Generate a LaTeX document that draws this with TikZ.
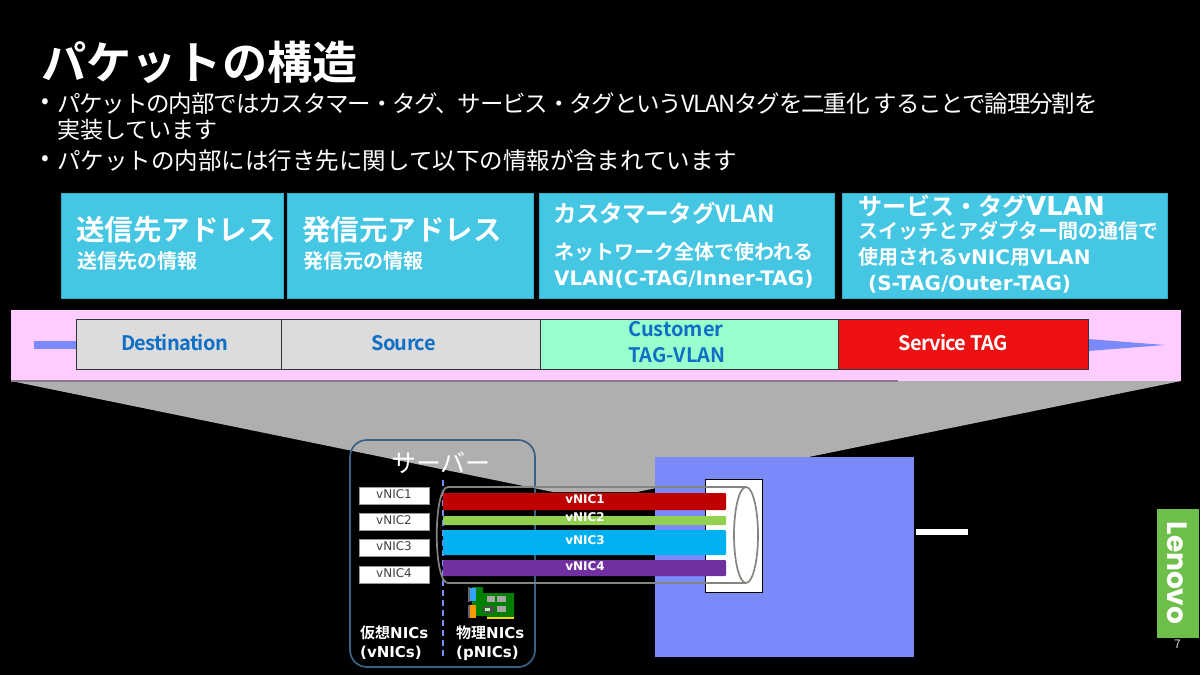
\documentclass[tikz,border=0pt]{standalone}
\usepackage{fontspec}
\setmainfont{Noto Sans CJK JP}
\newfontfamily\jpb{Noto Sans CJK JP Bold}
\newfontfamily\dvr{DejaVu Sans}
\newfontfamily\dvb{DejaVu Sans Bold}
\newfontfamily\pop{Poppins}
\definecolor{cyanbox}{HTML}{45C6E3}
\definecolor{cyanedge}{HTML}{2FAFCB}
\definecolor{pinkband}{HTML}{FFCCFF}
\definecolor{graycell}{HTML}{DCDCDC}
\definecolor{mintcell}{HTML}{99FFCC}
\definecolor{redcell}{HTML}{EE1111}
\definecolor{linkblue}{HTML}{0F6FC6}
\definecolor{periw}{HTML}{7B8AFB}
\definecolor{srvline}{HTML}{3A6186}
\definecolor{lenovo}{HTML}{6EBE4A}
\definecolor{cyl}{HTML}{85857F}
\definecolor{wedge}{HTML}{AFAFAF}
\definecolor{bandline}{HTML}{8A7A8A}
\tikzset{
  toptext/.style={anchor=west,align=left,text=white,inner sep=0pt,font=\jpb},
  topbox/.style={fill=cyanbox,draw=cyanedge,line width=0.8pt},
  bullet/.style={anchor=west,text=white,inner sep=0pt},
  cell/.style={draw=black!80,line width=0.8pt,anchor=north west,inner sep=0pt,minimum height=50pt},
  celltext/.style={inner sep=0pt,align=left,font=\jpb\fontsize{20}{26}\selectfont\addfontfeature{LetterSpace=-3.5}},
  custtext/.style={inner sep=0pt,align=left,anchor=west,font=\jpb\fontsize{20}{26}\selectfont},
  vbox/.style={fill=white,draw=black!40,line width=0.5pt,minimum width=70pt,minimum height=17pt,inner sep=0pt},
  vtext/.style={inner sep=0pt,text=black!75,font=\dvr\fontsize{12}{13}\selectfont},
  bartext/.style={text=white,font=\dvb\fontsize{12}{13}\selectfont,inner sep=0pt},
  niclabel/.style={text=white,inner sep=0pt,align=left,anchor=north west,font=\jpb\fontsize{15}{19}\selectfont},
}
\begin{document}
\begin{tikzpicture}[x=1pt,y=-1pt]
\path[fill=black,use as bounding box] (0,0) rectangle (1200,675);
% title
\node[anchor=west,text=white,inner sep=0pt,font=\jpb\fontsize{45.2}{48}\selectfont] (title) at (41,62) {パケットの構造};
\node[bullet,font=\fontsize{23}{25}\selectfont] (b1) at (41,104) {•};
\node[bullet,font=\fontsize{23.5}{25}\selectfont\addfontfeature{LetterSpace=-4.9}] (l1) at (57,104) {パケットの内部ではカスタマー・タグ、サービス・タグというVLANタグを二重化 することで論理分割を};
\node[bullet,font=\fontsize{23}{25}\selectfont] (l2) at (57,130) {実装しています};
\node[bullet,font=\fontsize{23}{25}\selectfont] (b2) at (41,161) {•};
\node[bullet,font=\fontsize{23.5}{25}\selectfont] (l3) at (57,161) {パケットの内部には行き先に関して以下の情報が含まれています};
% top boxes
\draw[topbox] (61,193) rectangle (283.5,298.5);
\draw[topbox] (287,193) rectangle (533.5,298.5);
\draw[topbox] (539,193) rectangle (834.5,298.5);
\draw[topbox] (842,193) rectangle (1167.5,298.5);
\node[toptext,font=\jpb\fontsize{28.5}{31}\selectfont] (t1a) at (76,230) {送信先アドレス};
\node[toptext,font=\jpb\fontsize{20}{22}\selectfont] (t1b) at (77,261) {送信先の情報};
\node[toptext,font=\jpb\fontsize{28.5}{31}\selectfont] (t2a) at (302,230) {発信元アドレス};
\node[toptext,font=\jpb\fontsize{20}{22}\selectfont] (t2b) at (303,261) {発信元の情報};
\node[toptext,font=\jpb\fontsize{23.5}{26}\selectfont\addfontfeature{LetterSpace=-1.5}] (t3a) at (553,213) {カスタマータグVLAN};
\node[toptext,font=\jpb\fontsize{20}{26}\selectfont] (t3b) at (554,265) {ネットワーク全体で使われる\\{\dvb VLAN(C-TAG/Inner-TAG)}};
\node[toptext,font=\jpb\fontsize{24}{26}\selectfont] (t4a) at (858,206) {サービス・タグ{\dvb\fontsize{26}{26}\selectfont VLAN}};
\node[toptext,font=\jpb\fontsize{20}{26}\selectfont] (t4b) at (858,257.5) {スイッチとアダプター間の通信で\\使用される{\dvb vNIC}用{\dvb VLAN}\\\hspace*{10pt}{\dvb (S-TAG/Outer-TAG)}};
% gray wedge
\fill[wedge] (11,381) -- (1181,381) -- (637,492) -- (553,492) -- cycle;
% pink band
\fill[pinkband] (11,310) rectangle (1181,381);
\draw[bandline,line width=1.3pt] (11,381) -- (898,381);
% arrow
\fill[periw] (34,341) rectangle (76,349);
\fill[periw] (1088,339) -- (1165,345) -- (1088,351) -- cycle;
% cells
\node[cell,fill=graycell,minimum width=205pt] (dst) at (75.5,318.5) {};
\node[cell,fill=graycell,minimum width=259pt] (src) at (280.5,318.5) {};
\node[cell,fill=mintcell,minimum width=298pt] (cust) at (539.5,318.5) {};
\node[cell,fill=redcell,minimum width=250pt] (svc) at (837.5,318.5) {};
\node[celltext,text=linkblue] (dstt) at (174.5,343) {Destination};
\node[celltext,text=linkblue] (srct) at (403.5,343) {Source};
\node[custtext,text=linkblue] (custt) at (628,342) {Customer\\TAG-VLAN};
\node[celltext,text=white] (svct) at (953,343) {Service TAG};
% switch
\fill[periw] (655,457) rectangle (914,657);
\draw[fill=white,draw=black,line width=0.7pt] (705,479) rectangle (762,592);
\fill[white] (916,529) rectangle (968,535);
% server
\draw[srvline,line width=1.7pt,rounded corners=17pt] (350,440) rectangle (535,667);
\node[text=white,inner sep=0pt,font=\fontsize{25}{26}\selectfont] (srv) at (441,463) {サーバー};
\draw[periw,line width=1.4pt,dash pattern=on 6pt off 4pt] (443,480) -- (443,658);
\node[vbox] (v1) at (394,495.5) {};
\node[vbox] (v2) at (394,521.5) {};
\node[vbox] (v3) at (394,548) {};
\node[vbox] (v4) at (394,574.5) {};
\node[vtext] at (394,494) {vNIC1};
\node[vtext] at (394,520) {vNIC2};
\node[vtext] at (394,546.5) {vNIC3};
\node[vtext] at (394,573) {vNIC4};
% bars
\fill[fill={rgb,255:red,192;green,0;blue,0},rounded corners=1pt] (443,493) rectangle (726,510);
\fill[fill={rgb,255:red,146;green,208;blue,80},rounded corners=1pt] (443,516) rectangle (726,525);
\fill[fill={rgb,255:red,0;green,176;blue,240},rounded corners=1pt] (443,530) rectangle (726,555);
\fill[fill={rgb,255:red,112;green,48;blue,160},rounded corners=1pt] (443,560) rectangle (726,576);
\node[bartext] (n1) at (585,499) {vNIC1};
\node[bartext] (n2) at (585,517.5) {vNIC2};
\node[bartext] (n3) at (585,540) {vNIC3};
\node[bartext] (n4) at (585,566) {vNIC4};
% cylinder
\draw[cyl,line width=1.7pt] (746,487) -- (448,487) .. controls (433,487) and (433,583) .. (448,583) -- (746,583);
\draw[cyl,line width=1.7pt] (746,535) ellipse [x radius=12, y radius=48];
% NIC icon
\fill[green!50!black] (472,587) -- (483,587) -- (483,593) -- (514,593) -- (514,618) -- (487,618) -- (487,616) -- (472,616) -- cycle;
\fill[yellow!70!orange] (487,616.5) rectangle (514,619);
\fill[gray!70] (487,596) rectangle (495,602);
\fill[gray!70] (497,596) rectangle (506,602);
\fill[gray!70] (497,606) rectangle (506,612);
\fill[black!70] (483,606) rectangle (494,613);
\fill[white!70!green] (485,608) rectangle (490,611);
\fill[gray!80!black] (468,587) rectangle (470,602);
\fill[gray!80!black] (468,605) rectangle (470,618);
\fill[blue!45!cyan!80!white] (470,588) rectangle (476,601);
\fill[orange!80!yellow] (470,605) rectangle (476,618);
% labels
\node[niclabel] (vn) at (360,626) {仮想{\dvb NICs}\\{\dvb (vNICs)}};
\node[niclabel] (pn) at (456,626) {物理{\dvb NICs}\\{\dvb (pNICs)}};
% lenovo
\fill[lenovo] (1157,509) rectangle (1199,638);
\node[rotate=-90,text=white,inner sep=0pt,font=\pop\bfseries\fontsize{28}{32}\selectfont] (lv) at (1177,573) {Lenovo};
\node[text=white!85!black,inner sep=0pt,font=\fontsize{12}{13}\selectfont] (pg) at (1177.5,644) {7};
\end{tikzpicture}
\end{document}
